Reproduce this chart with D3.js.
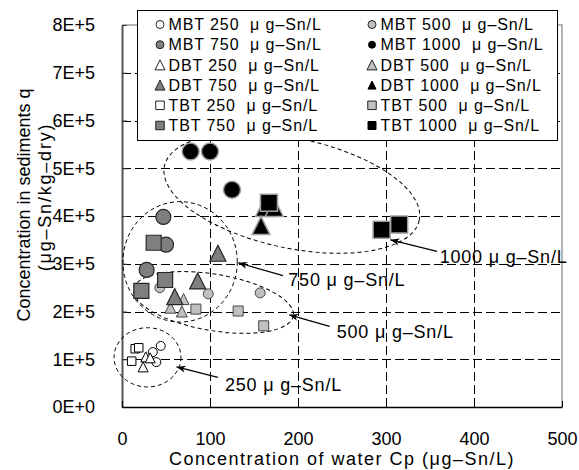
<!DOCTYPE html>
<html><head><meta charset="utf-8">
<script src="https://cdn.jsdelivr.net/npm/d3@7"></script>
<style>
html,body{margin:0;padding:0;background:#fff;}
svg{display:block;font-family:"Liberation Sans",Arial,sans-serif;}
text{white-space:pre;}
</style></head><body>
<svg id="chart" width="579" height="470"></svg>
<script>
// ---------- data ----------
const compounds = ["MBT", "DBT", "TBT"];
const concentrations = [250, 500, 750, 1000];
const unitText = "μ g–Sn/L";
const xTicks = [0, 100, 200, 300, 400, 500];
const xTickLabels = ["0", "100", "200", "300", "400", "500"];
const yTicks = [0, 1e5, 2e5, 3e5, 4e5, 5e5, 6e5, 7e5, 8e5];
const yTickLabels = ["0E+0", "1E+5", "2E+5", "3E+5", "4E+5", "5E+5", "6E+5", "7E+5", "8E+5"];
const xTitle = "Concentration of water Cp (μg–Sn/L)";
const yTitle = ["Concentration in sediments q", "(μg–Sn/kg–dry)"];

// [Cp (μg-Sn/L), q (μg-Sn/kg-dry)]
const MBT250 = [[44, 1.28e5], [35, 1.15e5], [39, 0.94e5]];
const MBT500 = [[43, 2.50e5], [98, 2.37e5], [157, 2.39e5]];
const MBT750 = [[47, 3.98e5], [50, 3.40e5], [28, 2.87e5]];
const MBT1000 = [[78, 5.35e5], [100, 5.35e5], [125, 4.55e5]];
const DBT250 = [[24, 0.84e5], [27, 1.05e5], [32, 1.03e5]];
const DBT500 = [[55, 2.08e5], [70, 2.26e5], [68, 2.00e5]];
const DBT750 = [[109, 3.22e5], [86, 2.64e5], [60, 2.31e5]];
const DBT1000 = [[162, 4.18e5], [173, 4.18e5], [158, 3.80e5]];
const TBT250 = [[15, 1.22e5], [19, 1.24e5], [11, 0.96e5]];
const TBT500 = [[84, 2.05e5], [132, 2.01e5], [161, 1.70e5]];
const TBT750 = [[36, 3.44e5], [49, 2.66e5], [22, 2.43e5]];
const TBT1000 = [[167, 4.28e5], [295, 3.71e5], [315, 3.82e5]];

// dashed group outlines: centre (data units), semi-axes (x units, q units), tilt
const groupCentres = {250: [29, 1.04e5], 500: [104, 2.19e5], 750: [66, 3.04e5], 1000: [193, 4.48e5]};
const groupRadii = {250: [38, 0.62e5], 500: [92, 0.59e5], 750: [65, 1.26e5], 1000: [148, 1.15e5]};
const groupTilt = {250: 0, 500: 9.6, 750: 0, 1000: 12};
// annotation arrows: label anchor, arrow start, arrow tip (data units)
const labelAt = {250: [117, 0.46e5], 500: [244, 1.57e5], 750: [189, 2.66e5], 1000: [361, 3.14e5]};
const arrowFrom = {250: [109, 0.62e5], 500: [236, 1.69e5], 750: [183, 2.75e5], 1000: [358, 3.26e5]};
const arrowTo = {250: [62, 0.84e5], 500: [190, 1.93e5], 750: [132, 3.02e5], 1000: [305, 3.50e5]};

const seriesValues = {MBT250, MBT500, MBT750, MBT1000, DBT250, DBT500, DBT750, DBT1000, TBT250, TBT500, TBT750, TBT1000};

// ---------- styles ----------
const shapeOf = {MBT: "circle", DBT: "triangle", TBT: "square"};
const fillOf = {250: "#ffffff", 500: "#c0c0c0", 750: "#7f7f7f", 1000: "#000000"};
const strokeOf = {250: "#000000", 500: "#474747", 750: "#262626", 1000: "#a0a0a0"};
const strokeW = {250: 1, 500: 1, 750: 1.2, 1000: 1.5};
const markSize = {circle: {250: 9, 500: 10, 750: 15, 1000: 17}, triangle: {250: 10, 500: 11, 750: 16, 1000: 18}, square: {250: 8.5, 500: 10, 750: 15, 1000: 17}};
const legendSize = {circle: {250: 8, 500: 8, 750: 8, 1000: 7}, triangle: {250: 10, 500: 10, 750: 10, 1000: 8}, square: {250: 8.5, 500: 8.5, 750: 8.5, 1000: 8}};

function shapePath(shape, s) {
  const h = s / 2;
  if (shape === "circle") return `M${-h},0a${h},${h} 0 1,0 ${s},0a${h},${h} 0 1,0 ${-s},0Z`;
  if (shape === "square") return `M${-h},${-h}h${s}v${s}h${-s}Z`;
  return `M0,${-h}L${h},${h}L${-h},${h}Z`;
}

// ---------- layout ----------
const W = 579, H = 470;
const margin = {left: 122, top: 25, right: 17, bottom: 63};
const x = d3.scaleLinear().domain([0, 500]).range([margin.left, W - margin.right]);
const y = d3.scaleLinear().domain([0, 8e5]).range([H - margin.bottom, margin.top]);
const svg = d3.select("#chart");

// grid
const grid = svg.append("g").attr("stroke", "#000").attr("stroke-width", 1).attr("stroke-dasharray", "9,4");
grid.selectAll("line.v").data(xTicks.slice(1, -1)).join("line")
  .attr("x1", d => Math.round(x(d)) + 0.5).attr("x2", d => Math.round(x(d)) + 0.5)
  .attr("y1", y(0)).attr("y2", y(8e5));
grid.selectAll("line.h").data(yTicks.slice(1, -1)).join("line")
  .attr("y1", d => Math.round(y(d)) + 0.5).attr("y2", d => Math.round(y(d)) + 0.5)
  .attr("x1", x(0)).attr("x2", x(500));

// top / right frame
svg.append("path")
  .attr("d", `M${x(0)},${y(8e5)}H${x(500)}V${y(0)}`)
  .attr("fill", "none").attr("stroke", "#9a9a9a").attr("stroke-width", 1.5);

// axes
const yAxis = d3.axisLeft(y).tickValues(yTicks).tickFormat((d, i) => yTickLabels[i])
  .tickSizeInner(-5).tickSizeOuter(0).tickPadding(27);
const gy = svg.append("g").attr("transform", `translate(${x(0)},0)`).call(yAxis);
gy.select(".domain").attr("stroke", "#555").attr("stroke-width", 2);
gy.selectAll(".tick line").attr("stroke", "#333");
gy.selectAll(".tick text").attr("font-size", 18).attr("font-family", "Liberation Sans, Arial, sans-serif").attr("fill", "#000");

const xAxis = d3.axisBottom(x).tickValues(xTicks).tickFormat((d, i) => xTickLabels[i])
  .tickSizeInner(-6).tickSizeOuter(0).tickPadding(25.5);
const gx = svg.append("g").attr("transform", `translate(0,${y(0)})`).call(xAxis);
gx.select(".domain").attr("stroke", "#000").attr("stroke-width", 1.5);
gx.selectAll(".tick line").attr("stroke", "#000");
gx.selectAll(".tick text").attr("font-size", 18).attr("font-family", "Liberation Sans, Arial, sans-serif").attr("fill", "#000");

// titles
svg.append("text").attr("x", (x(0) + x(500)) / 2).attr("y", 465)
  .attr("text-anchor", "middle").attr("font-size", 18).attr("letter-spacing", "1.5px")
  .text(xTitle);
yTitle.forEach((t, i) => {
  svg.append("text")
    .attr("transform", `translate(${24 + i * 21},${205 - i * 8}) rotate(-90)`)
    .attr("text-anchor", "middle").attr("dy", "0.35em").attr("font-size", 18)
    .attr("letter-spacing", i === 1 ? "1.8px" : "0px")
    .text(t);
});

// dashed group outlines
const px = v => x(v) - x(0);
const py = v => y(0) - y(v);
concentrations.forEach(c => {
  const [cx, cy] = groupCentres[c];
  const [rx, ry] = groupRadii[c];
  svg.append("ellipse")
    .attr("transform", `translate(${x(cx)},${y(cy)}) rotate(${groupTilt[c]})`)
    .attr("rx", px(rx)).attr("ry", py(ry))
    .attr("fill", "none").attr("stroke", "#000").attr("stroke-width", 1).attr("stroke-dasharray", "4,3");
});

// series markers (drawn in legend order)
const series = [];
compounds.forEach(cmp => concentrations.forEach(c => {
  series.push({name: cmp + c, compound: cmp, conc: c, values: seriesValues[cmp + c]});
}));
series.forEach(s => {
  const shape = shapeOf[s.compound];
  svg.append("g").selectAll("path").data(s.values).join("path")
    .attr("transform", d => `translate(${x(d[0])},${y(d[1])})`)
    .attr("d", shapePath(shape, markSize[shape][s.conc]))
    .attr("fill", fillOf[s.conc]).attr("stroke", strokeOf[s.conc]).attr("stroke-width", strokeW[s.conc]);
});

// arrows + labels
svg.append("defs").append("marker").attr("id", "arr")
  .attr("markerUnits", "userSpaceOnUse").attr("markerWidth", 12).attr("markerHeight", 10)
  .attr("refX", 9).attr("refY", 0).attr("viewBox", "-1 -5 12 10").attr("orient", "auto")
  .append("path").attr("d", "M0,-3.5L9,0L0,3.5L2.5,0Z").attr("fill", "#000");
concentrations.forEach(c => {
  svg.append("line")
    .attr("x1", x(arrowFrom[c][0])).attr("y1", y(arrowFrom[c][1]))
    .attr("x2", x(arrowTo[c][0])).attr("y2", y(arrowTo[c][1]))
    .attr("stroke", "#000").attr("stroke-width", 1.2).attr("marker-end", "url(#arr)");
  svg.append("text").attr("x", x(labelAt[c][0])).attr("y", y(labelAt[c][1]))
    .attr("dy", "0.35em").attr("font-size", 18).attr("letter-spacing", "0.8px")
    .text(`${c} ${unitText}`);
});

// legend
const lg = svg.append("g");
lg.append("rect").attr("x", 137.5).attr("y", 10.5).attr("width", 420).attr("height", 130)
  .attr("fill", "#fff").attr("stroke", "#000").attr("stroke-width", 1);
series.forEach((s, i) => {
  const col = i % 2, row = Math.floor(i / 2);
  const mx = col === 0 ? 160 : 372;
  const my = 24.5 + row * 20.2;
  const shape = shapeOf[s.compound];
  lg.append("path").attr("transform", `translate(${mx},${my})`)
    .attr("d", shapePath(shape, legendSize[shape][s.conc]))
    .attr("fill", fillOf[s.conc]).attr("stroke", s.conc === 1000 ? "#000" : "#222").attr("stroke-width", 1);
  lg.append("text").attr("x", mx + 8.5).attr("y", my).attr("dy", "0.36em")
    .attr("font-size", 16).attr("letter-spacing", "0.9px")
    .text(`${s.compound} ${s.conc}  ${unitText}`);
});
</script>
</body></html>
